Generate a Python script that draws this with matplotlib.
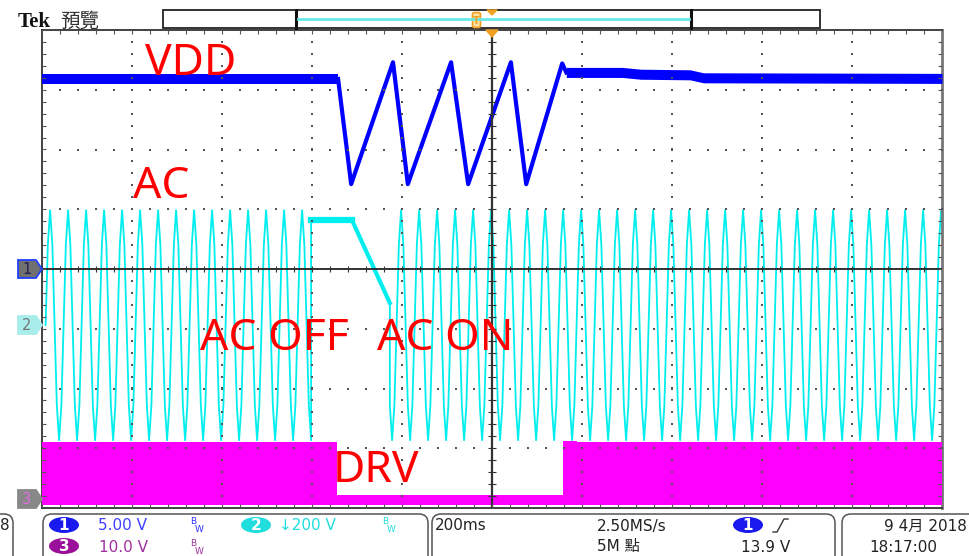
import numpy as np
import matplotlib.pyplot as plt
from matplotlib.patches import Polygon, Rectangle, Ellipse, FancyBboxPatch

plt.rcParams['font.family'] = ['DejaVu Sans', 'Noto Sans CJK TC']

# time in ms (200 ms/div, trigger at centre)
T0, T1 = -1000, 1000

# CH1 VDD, volts (5 V/div, ground at centre line)
vdd_pre_t = [-1000, -342]
vdd_pre_v = [15.9, 15.9]
vdd_ramp_t = [-342, -313, -220, -187, -91, -53, 42, 76, 156, 165]
vdd_ramp_v = [15.9, 7.1, 17.3, 7.1, 17.3, 7.1, 17.3, 7.1, 17.2, 16.45]
vdd_post_t = [165, 290, 330, 440, 470, 1000]
vdd_post_v = [16.45, 16.45, 16.3, 16.25, 16.0, 15.95]
vdd_band = 0.42

# CH2 AC, volts (200 V/div)
ac_cycle = [0.0, 0.7, 1.0, 0.7, 0.0, -0.7, -1.0, -0.7]   # one displayed period, normalised
ac_peak = 385
ac_period = 40
ac_on1 = (-992, -402)       # first start = rising zero crossing
ac_on2 = (-252, 1000)
ac_hold_t = [-402, -311, -227]
ac_hold_v = [351, 351, 74]

# CH3 DRV, volts (10 V/div)
drv_t = [-1000, -344, 158, 190, 1000]
drv_top = [9.5, 0.67, 9.75, 9.55, 9.55]
drv_bottom = -1.0

# channel offsets in divisions and scales
ch1_off, ch1_scale = 0.0, 5.0
ch2_off, ch2_scale = -0.94, 200.0
ch3_off, ch3_scale = -3.85, 10.0


def ac_segment(t_start, t_end):
    n = int(np.ceil((t_end - t_start) / ac_period)) + 1
    shape = np.tile(ac_cycle, n)
    t = t_start + np.arange(len(shape)) * ac_period / len(ac_cycle)
    keep = t <= t_end
    return t[keep], shape[keep] * ac_peak


fig = plt.figure(figsize=(9.69, 5.56), dpi=100)
ax = fig.add_axes([42 / 969, 48 / 556, 900 / 969, 478 / 556])
ax.set_xlim(T0, T1)
ax.set_ylim(-4, 4)
ax.set_xticks([])
ax.set_yticks([])
for s in ax.spines.values():
    s.set_color('#333333')
    s.set_linewidth(1.3)
ax.spines['right'].set_color('#777777')
ax.spines['right'].set_linewidth(2)

# DRV
dt = np.array(drv_t)
dtop = np.array(drv_top) / ch3_scale + ch3_off
ax.fill_between(dt, drv_bottom / ch3_scale + ch3_off, dtop, step='post',
                color='#ff00ff', lw=0, zorder=3)

# AC
t1, v1 = ac_segment(*ac_on1)
t2, v2 = ac_segment(*ac_on2)
keep = t2 >= ac_hold_t[-1]
ac_t = np.concatenate([t1, ac_hold_t, t2[keep]])
ac_v = np.concatenate([v1, ac_hold_v, v2[keep]])
ax.plot(ac_t, ac_v / ch2_scale + ch2_off, color='#00eeee', lw=1.3, zorder=2)
ax.plot(ac_hold_t[:2], np.array(ac_hold_v[:2]) / ch2_scale + ch2_off,
        color='#00eeee', lw=4.5, zorder=2)
ax.plot(ac_hold_t[1:], np.array(ac_hold_v[1:]) / ch2_scale + ch2_off,
        color='#00eeee', lw=3, zorder=2)

# VDD
for tt, vv in [(vdd_pre_t, vdd_pre_v), (vdd_post_t, vdd_post_v)]:
    vv = np.array(vv)
    ax.fill_between(tt, (vv - vdd_band) / ch1_scale + ch1_off,
                    (vv + vdd_band) / ch1_scale + ch1_off, color='#0000ff', lw=0, zorder=4)
ax.plot(vdd_ramp_t, np.array(vdd_ramp_v) / ch1_scale + ch1_off, color='#0000ff', lw=3, zorder=4)

# graticule
ys = np.arange(-4, 4.001, 0.2)
xs = np.arange(T0, T1 + 0.1, 40)
for i in range(1, 10):
    if i != 5:
        ax.scatter(np.full(len(ys), T0 + 200 * i), ys, s=1.6, marker='s', color='#555555', lw=0, zorder=5)
for j in range(-3, 4):
    if j != 0:
        ax.scatter(xs, np.full(len(xs), j), s=1.6, marker='s', color='#555555', lw=0, zorder=5)
ax.axhline(0, color='#222222', lw=1.3, zorder=5)
ax.axvline(0, color='#333333', lw=1.6, zorder=5)
ax.vlines(xs, -0.05, 0.05, color='#333333', lw=0.8, zorder=5)
ax.hlines(ys, -8, 8, color='#333333', lw=0.8, zorder=5)
ax.vlines(xs, 3.94, 4, color='#555555', lw=0.8, zorder=5)
ax.vlines(xs, -4, -3.94, color='#555555', lw=0.8, zorder=5)
ax.hlines(ys, T0, T0 + 8, color='#555555', lw=0.8, zorder=5)
ax.hlines(ys, T1 - 8, T1, color='#555555', lw=0.8, zorder=5)

# labels
lab = dict(color='#ff0000', fontsize=32, family='Noto Sans', va='baseline', ha='left', zorder=6)
ax.text(-771, 3.25, 'VDD', **lab)
ax.text(-798, 1.19, 'AC', **lab)
ax.text(-649, -1.36, 'AC OFF', **lab)
ax.text(-256, -1.36, 'AC ON', **lab)
ax.text(-353, -3.56, 'DRV', **lab)

# screen chrome in pixel coordinates
ov = fig.add_axes([0, 0, 1, 1], zorder=10)
ov.set_xlim(0, 969)
ov.set_ylim(556, 0)
ov.axis('off')

ov.text(18, 27, 'Tek', family='Liberation Serif', weight='bold', fontsize=15, color='#111111')
ov.text(60, 27, '預覽', family='Noto Sans CJK TC', fontsize=14, color='#333333')

ov.add_patch(Rectangle((163, 10), 657, 18, fill=False, ec='#222222', lw=1.3))
ov.plot([296, 296], [10, 28], color='#111111', lw=2.2)
ov.plot([691, 691], [10, 28], color='#111111', lw=2.2)
ov.plot([298, 689], [18.5, 18.5], color='#66e8e8', lw=2)
ov.add_patch(FancyBboxPatch((473, 13), 7, 14, boxstyle='round,pad=0.5,rounding_size=2',
                            fc='#ffe0a0', ec='#f0a020', lw=1.2))
ov.text(476.5, 20.5, 'T', color='#f0a020', fontsize=7, ha='center', va='center', weight='bold')
ov.add_patch(Polygon([(487, 10), (497, 10), (492, 15)], color='#f0a020'))
ov.add_patch(Polygon([(486, 30), (498, 30), (492, 37)], color='#f0a020'))

# channel ground markers
def marker(yc, fc, ec, txt, tc):
    ov.add_patch(Polygon([(18, yc - 9), (36, yc - 9), (42, yc), (36, yc + 9), (18, yc + 9)],
                         fc=fc, ec=ec, lw=1.3))
    ov.text(27, yc + 0.5, txt, color=tc, fontsize=10.5, ha='center', va='center')

marker(269, '#707070', '#2040ff', '1', '#202050')
marker(325, '#a8ecec', '#a8ecec', '2', '#777777')
marker(499, '#888888', '#888888', '3', '#e070e0')

# status bar
for x0, x1 in [(-200, 13), (43, 428), (432, 835), (842, 1100)]:
    ov.add_patch(FancyBboxPatch((x0, 514), x1 - x0, 60, boxstyle='round,pad=0,rounding_size=9',
                                fill=False, ec='#555555', lw=1.1))

def badge(x, y, fc, txt):
    ov.add_patch(Ellipse((x, y), 30, 16, fc=fc, ec='none'))
    ov.text(x, y + 0.5, txt, color='white', fontsize=11, ha='center', va='center', weight='bold')

def bw(x, y, c):
    ov.text(x, y - 4, 'B', color=c, fontsize=6.5, ha='left', va='center')
    ov.text(x + 5, y + 4, 'W', color=c, fontsize=6.5, ha='left', va='center')

st = dict(fontsize=11, va='center', ha='left')
ov.text(0, 525, '8', color='#222222', **st)
badge(64, 525, '#1a1aee', '1')
ov.text(98, 526, '5.00 V', color='#4040ff', **st)
bw(190, 526, '#3030ff')
badge(256, 525, '#22dddd', '2')
ov.text(279, 526, '↓200 V', color='#22dddd', **st)
bw(382, 526, '#22dddd')
badge(64, 546, '#9a109a', '3')
ov.text(99, 547, '10.0 V', color='#a030a0', **st)
bw(190, 547, '#a030a0')

ov.text(435, 526, '200ms', color='#222222', **st)
ov.text(597, 526, '2.50MS/s', color='#222222', **st)
ov.text(597, 547, '5M 點', color='#222222', **st)
badge(748, 525, '#1a1aee', '1')
ov.plot([773, 777, 784, 788], [532, 532, 519, 519], color='#333333', lw=1)
ov.text(741, 547, '13.9 V', color='#222222', **st)
ov.text(967, 526, '9 4月 2018', color='#222222', fontsize=11, va='center', ha='right')
ov.text(869, 547, '18:17:00', color='#222222', **st)

fig.savefig('out.png', dpi=100)
